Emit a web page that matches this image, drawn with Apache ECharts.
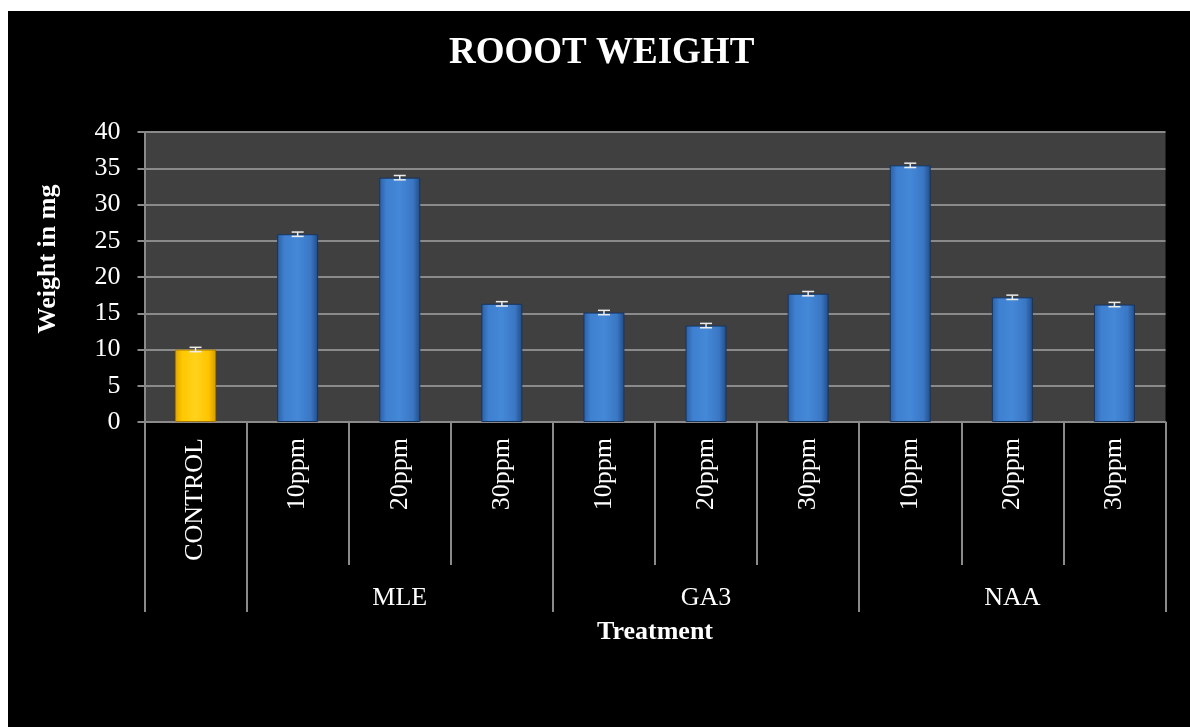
<!DOCTYPE html>
<html>
<head>
<meta charset="utf-8">
<title>Rooot weight</title>
<script src="https://cdn.jsdelivr.net/npm/echarts@6/dist/echarts.min.js"></script>
<style>
  html, body { margin: 0; padding: 0; background: #fff; }
  #frame { position: absolute; left: 8px; top: 11px; width: 1182px; height: 716px; background: #000; }
  #main { position: absolute; left: 0; top: 0; width: 1190px; height: 727px; }
</style>
</head>
<body>
<div id="frame"></div>
<div id="main"></div>
<script>
  // data
  const treatments = ['CONTROL', '10ppm', '20ppm', '30ppm', '10ppm', '20ppm', '30ppm', '10ppm', '20ppm', '30ppm']
  const groups = ['', 'MLE', 'MLE', 'MLE', 'GA3', 'GA3', 'GA3', 'NAA', 'NAA', 'NAA']
  const weights = [10, 25.9, 33.7, 16.3, 15.1, 13.3, 17.7, 35.4, 17.2, 16.2]
  const errors = [0.3, 0.3, 0.3, 0.3, 0.3, 0.3, 0.3, 0.3, 0.3, 0.3]
  const yTicks = [0, 5, 10, 15, 20, 25, 30, 35, 40]

  const serif = '"Liberation Serif", "Times New Roman", serif'
  const gridGray = '#8a8a8a'

  // blue bevel look
  const blueFill = new echarts.graphic.LinearGradient(0, 0, 1, 0, [
    { offset: 0, color: '#2c5fa3' },
    { offset: 0.18, color: '#3f80d0' },
    { offset: 0.5, color: '#4488d8' },
    { offset: 0.82, color: '#3a77c4' },
    { offset: 1, color: '#214b85' }
  ])
  const yellowFill = new echarts.graphic.LinearGradient(0, 0, 1, 0, [
    { offset: 0, color: '#e0a800' },
    { offset: 0.18, color: '#ffc800' },
    { offset: 0.5, color: '#ffd21c' },
    { offset: 0.82, color: '#ffc400' },
    { offset: 1, color: '#d49a00' }
  ])

  const barData = weights.map(function (v, i) {
    return {
      value: v,
      itemStyle: {
        color: i === 0 ? yellowFill : blueFill,
        borderColor: i === 0 ? '#a67800' : '#17345e',
        borderWidth: 1
      }
    }
  })
  const errData = weights.map(function (v, i) { return [i, v - errors[i], v + errors[i]] })

  // ticks of the group level at group starts, labels at group middles
  function groupStart (i) { return i === 0 || groups[i] !== groups[i - 1] }
  function groupMiddle (i) {
    return groups[i] !== '' && groups[i - 1] === groups[i] && groups[i + 1] === groups[i]
  }

  const chart = echarts.init(document.getElementById('main'))
  const option = {
    backgroundColor: 'transparent',
    animation: false,
    title: {
      text: 'ROOOT WEIGHT',
      left: 449,
      top: 35,
      padding: 0,
      textStyle: { color: '#fff', fontFamily: serif, fontSize: 37, fontWeight: 'bold' }
    },
    grid: {
      left: 144.5, right: 24.5, top: 132, bottom: 305,
      show: true, backgroundColor: '#404040', borderWidth: 0
    },
    xAxis: [
      {
        type: 'category',
        data: treatments,
        axisLine: { lineStyle: { color: gridGray, width: 2 } },
        axisTick: { show: true, interval: 0, length: 143, lineStyle: { color: gridGray, width: 2 } },
        axisLabel: {
          interval: 0, rotate: 90, margin: 16,
          color: '#fff', fontFamily: serif, fontSize: 26
        }
      },
      {
        type: 'category',
        position: 'bottom',
        data: groups,
        axisLine: { show: false },
        axisTick: { show: true, interval: groupStart, length: 190, lineStyle: { color: gridGray, width: 2 } },
        axisLabel: {
          interval: groupMiddle, margin: 163,
          color: '#fff', fontFamily: serif, fontSize: 26
        },
        name: 'Treatment',
        nameLocation: 'middle',
        nameGap: 197,
        nameTextStyle: { color: '#fff', fontFamily: serif, fontSize: 26, fontWeight: 'bold' }
      }
    ],
    yAxis: {
      type: 'value',
      min: yTicks[0],
      max: yTicks[yTicks.length - 1],
      interval: 5,
      name: 'Weight in mg',
      nameLocation: 'middle',
      nameRotate: 90,
      nameGap: 83,
      nameTextStyle: {
        color: '#fff', fontFamily: serif, fontSize: 26, fontWeight: 'bold',
        padding: [0, 0, 0, 36]
      },
      axisLine: { show: true, lineStyle: { color: gridGray, width: 2 } },
      axisTick: { show: true, length: 7, lineStyle: { color: gridGray, width: 2 } },
      axisLabel: { margin: 24, color: '#fff', fontFamily: serif, fontSize: 26 },
      splitLine: { show: true, lineStyle: { color: gridGray, width: 2 } }
    },
    series: [
      {
        name: 'Weight',
        type: 'bar',
        barWidth: 41,
        data: barData
      },
      {
        name: 'Error',
        type: 'custom',
        data: errData,
        z: 5,
        renderItem: function (params, api) {
          const x = api.value(0)
          const lo = api.coord([x, api.value(1)])
          const hi = api.coord([x, api.value(2)])
          const half = 6
          const style = { stroke: '#ececec', lineWidth: 1.5 }
          return {
            type: 'group',
            children: [
              { type: 'line', shape: { x1: lo[0], y1: lo[1], x2: hi[0], y2: hi[1] }, style: style },
              { type: 'line', shape: { x1: lo[0] - half, y1: lo[1], x2: lo[0] + half, y2: lo[1] }, style: style },
              { type: 'line', shape: { x1: hi[0] - half, y1: hi[1], x2: hi[0] + half, y2: hi[1] }, style: style }
            ]
          }
        }
      }
    ]
  }
  chart.setOption(option)
</script>
</body>
</html>
